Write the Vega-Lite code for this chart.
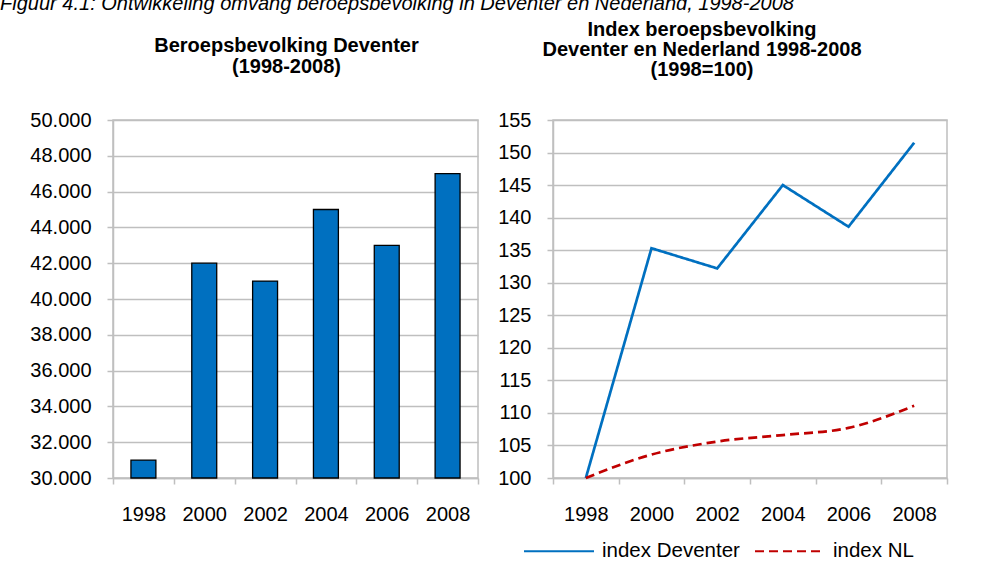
{
  "$schema": "https://vega.github.io/schema/vega-lite/v6.json",
  "background": "white",
  "padding": {"left": 0, "top": -6, "right": 0, "bottom": 0},
  "title": {
    "text": "Figuur 4.1: Ontwikkeling omvang beroepsbevolking in Deventer en Nederland, 1998-2008",
    "anchor": "start",
    "frame": "bounds",
    "fontSize": 20,
    "fontStyle": "italic",
    "fontWeight": "normal",
    "color": "black",
    "offset": 5,
    "dx": -29
  },
  "datasets": {
    "beroeps": [
      {"jaar": "1998", "beroepsbevolking": 31000},
      {"jaar": "2000", "beroepsbevolking": 42000},
      {"jaar": "2002", "beroepsbevolking": 41000},
      {"jaar": "2004", "beroepsbevolking": 45000},
      {"jaar": "2006", "beroepsbevolking": 43000},
      {"jaar": "2008", "beroepsbevolking": 47000}
    ],
    "index": [
      {"jaar": "1998", "reeks": "index Deventer", "index": 100},
      {"jaar": "2000", "reeks": "index Deventer", "index": 135.3},
      {"jaar": "2002", "reeks": "index Deventer", "index": 132.2},
      {"jaar": "2004", "reeks": "index Deventer", "index": 145.0},
      {"jaar": "2006", "reeks": "index Deventer", "index": 138.6},
      {"jaar": "2008", "reeks": "index Deventer", "index": 151.5},
      {"jaar": "1998", "reeks": "index NL", "index": 100},
      {"jaar": "2000", "reeks": "index NL", "index": 103.6},
      {"jaar": "2002", "reeks": "index NL", "index": 105.6},
      {"jaar": "2004", "reeks": "index NL", "index": 106.6},
      {"jaar": "2006", "reeks": "index NL", "index": 107.7},
      {"jaar": "2008", "reeks": "index NL", "index": 111.1}
    ]
  },
  "config": {
    "font": "Liberation Sans",
    "view": {"stroke": "#bfbfbf", "strokeWidth": 1.5},
    "axis": {
      "labelFont": "Liberation Sans",
      "labelFontSize": 20,
      "labelColor": "black",
      "domainColor": "#bfbfbf",
      "domainWidth": 1.5,
      "tickColor": "#bfbfbf",
      "tickWidth": 1.5,
      "gridColor": "#bfbfbf",
      "gridWidth": 1.5
    },
    "axisX": {"grid": false},
    "title": {"font": "Liberation Sans", "fontSize": 20, "fontWeight": "bold", "color": "black", "lineHeight": 21},
    "legend": {"labelFont": "Liberation Sans", "labelFontSize": 20.5, "labelColor": "black"}
  },
  "resolve": {"legend": {"color": "independent", "strokeDash": "independent"}},
  "spacing": 16,
  "hconcat": [
    {
      "width": 365,
      "height": 358,
      "data": {"name": "beroeps"},
      "title": {
        "text": ["Beroepsbevolking Deventer", "(1998-2008)"],
        "anchor": "middle",
        "offset": 33,
        "dx": -9
      },
      "mark": {"type": "bar", "color": "#0070C0", "stroke": "black", "strokeWidth": 1.3, "width": {"band": 0.41}},
      "encoding": {
        "x": {
          "field": "jaar",
          "type": "ordinal",
          "scale": {"paddingInner": 0, "paddingOuter": 0},
          "axis": {"title": null, "labelAngle": 0, "tickBand": "extent", "tickSize": 6, "labelPadding": 20}
        },
        "y": {
          "field": "beroepsbevolking",
          "type": "quantitative",
          "scale": {"domain": [30000, 50000], "zero": false, "nice": false},
          "axis": {
            "title": null,
            "values": [30000, 32000, 34000, 36000, 38000, 40000, 42000, 44000, 46000, 48000, 50000],
            "labelExpr": "replace(format(datum.value, ',d'), ',', '.')",
            "tickSize": 6,
            "labelPadding": 16
          }
        },
        "y2": {"datum": 30000}
      }
    },
    {
      "width": 394,
      "height": 358,
      "data": {"name": "index"},
      "title": {
        "text": ["Index beroepsbevolking", "Deventer en Nederland 1998-2008", "(1998=100)"],
        "anchor": "middle",
        "lineHeight": 20,
        "offset": 30,
        "dx": -48
      },
      "resolve": {"legend": {"color": "shared", "strokeDash": "shared"}},
      "encoding": {
        "x": {
          "field": "jaar",
          "type": "ordinal",
          "bandPosition": 0.5,
          "scale": {"type": "band", "paddingInner": 0, "paddingOuter": 0},
          "axis": {"title": null, "labelAngle": 0, "tickBand": "extent", "tickSize": 6, "labelPadding": 20}
        },
        "y": {
          "field": "index",
          "type": "quantitative",
          "scale": {"domain": [100, 155], "zero": false, "nice": false},
          "axis": {
            "title": null,
            "values": [100, 105, 110, 115, 120, 125, 130, 135, 140, 145, 150, 155],
            "tickSize": 6,
            "labelPadding": 16
          }
        },
        "color": {
          "field": "reeks",
          "type": "nominal",
          "scale": {"domain": ["index Deventer", "index NL"], "range": ["#0070C0", "#C00000"]},
          "legend": {
            "title": null,
            "orient": "none",
            "legendX": -30,
            "legendY": 395,
            "direction": "horizontal",
            "symbolType": "stroke",
            "symbolSize": 4900,
            "symbolStrokeWidth": 2,
            "labelOffset": 7,
            "columnPadding": 11
          }
        },
        "strokeDash": {
          "field": "reeks",
          "type": "nominal",
          "scale": {"domain": ["index Deventer", "index NL"], "range": [[1, 0], [9, 5]]},
          "legend": {
            "title": null,
            "orient": "none",
            "legendX": -30,
            "legendY": 395,
            "direction": "horizontal",
            "symbolType": "stroke",
            "symbolSize": 4900,
            "symbolStrokeWidth": 2,
            "labelOffset": 7,
            "columnPadding": 11
          }
        }
      },
      "layer": [
        {
          "transform": [{"filter": "datum.reeks === 'index Deventer'"}],
          "mark": {"type": "line", "strokeWidth": 2.7}
        },
        {
          "transform": [{"filter": "datum.reeks === 'index NL'"}],
          "mark": {"type": "line", "strokeWidth": 2.7, "interpolate": "monotone"}
        }
      ]
    }
  ]
}
